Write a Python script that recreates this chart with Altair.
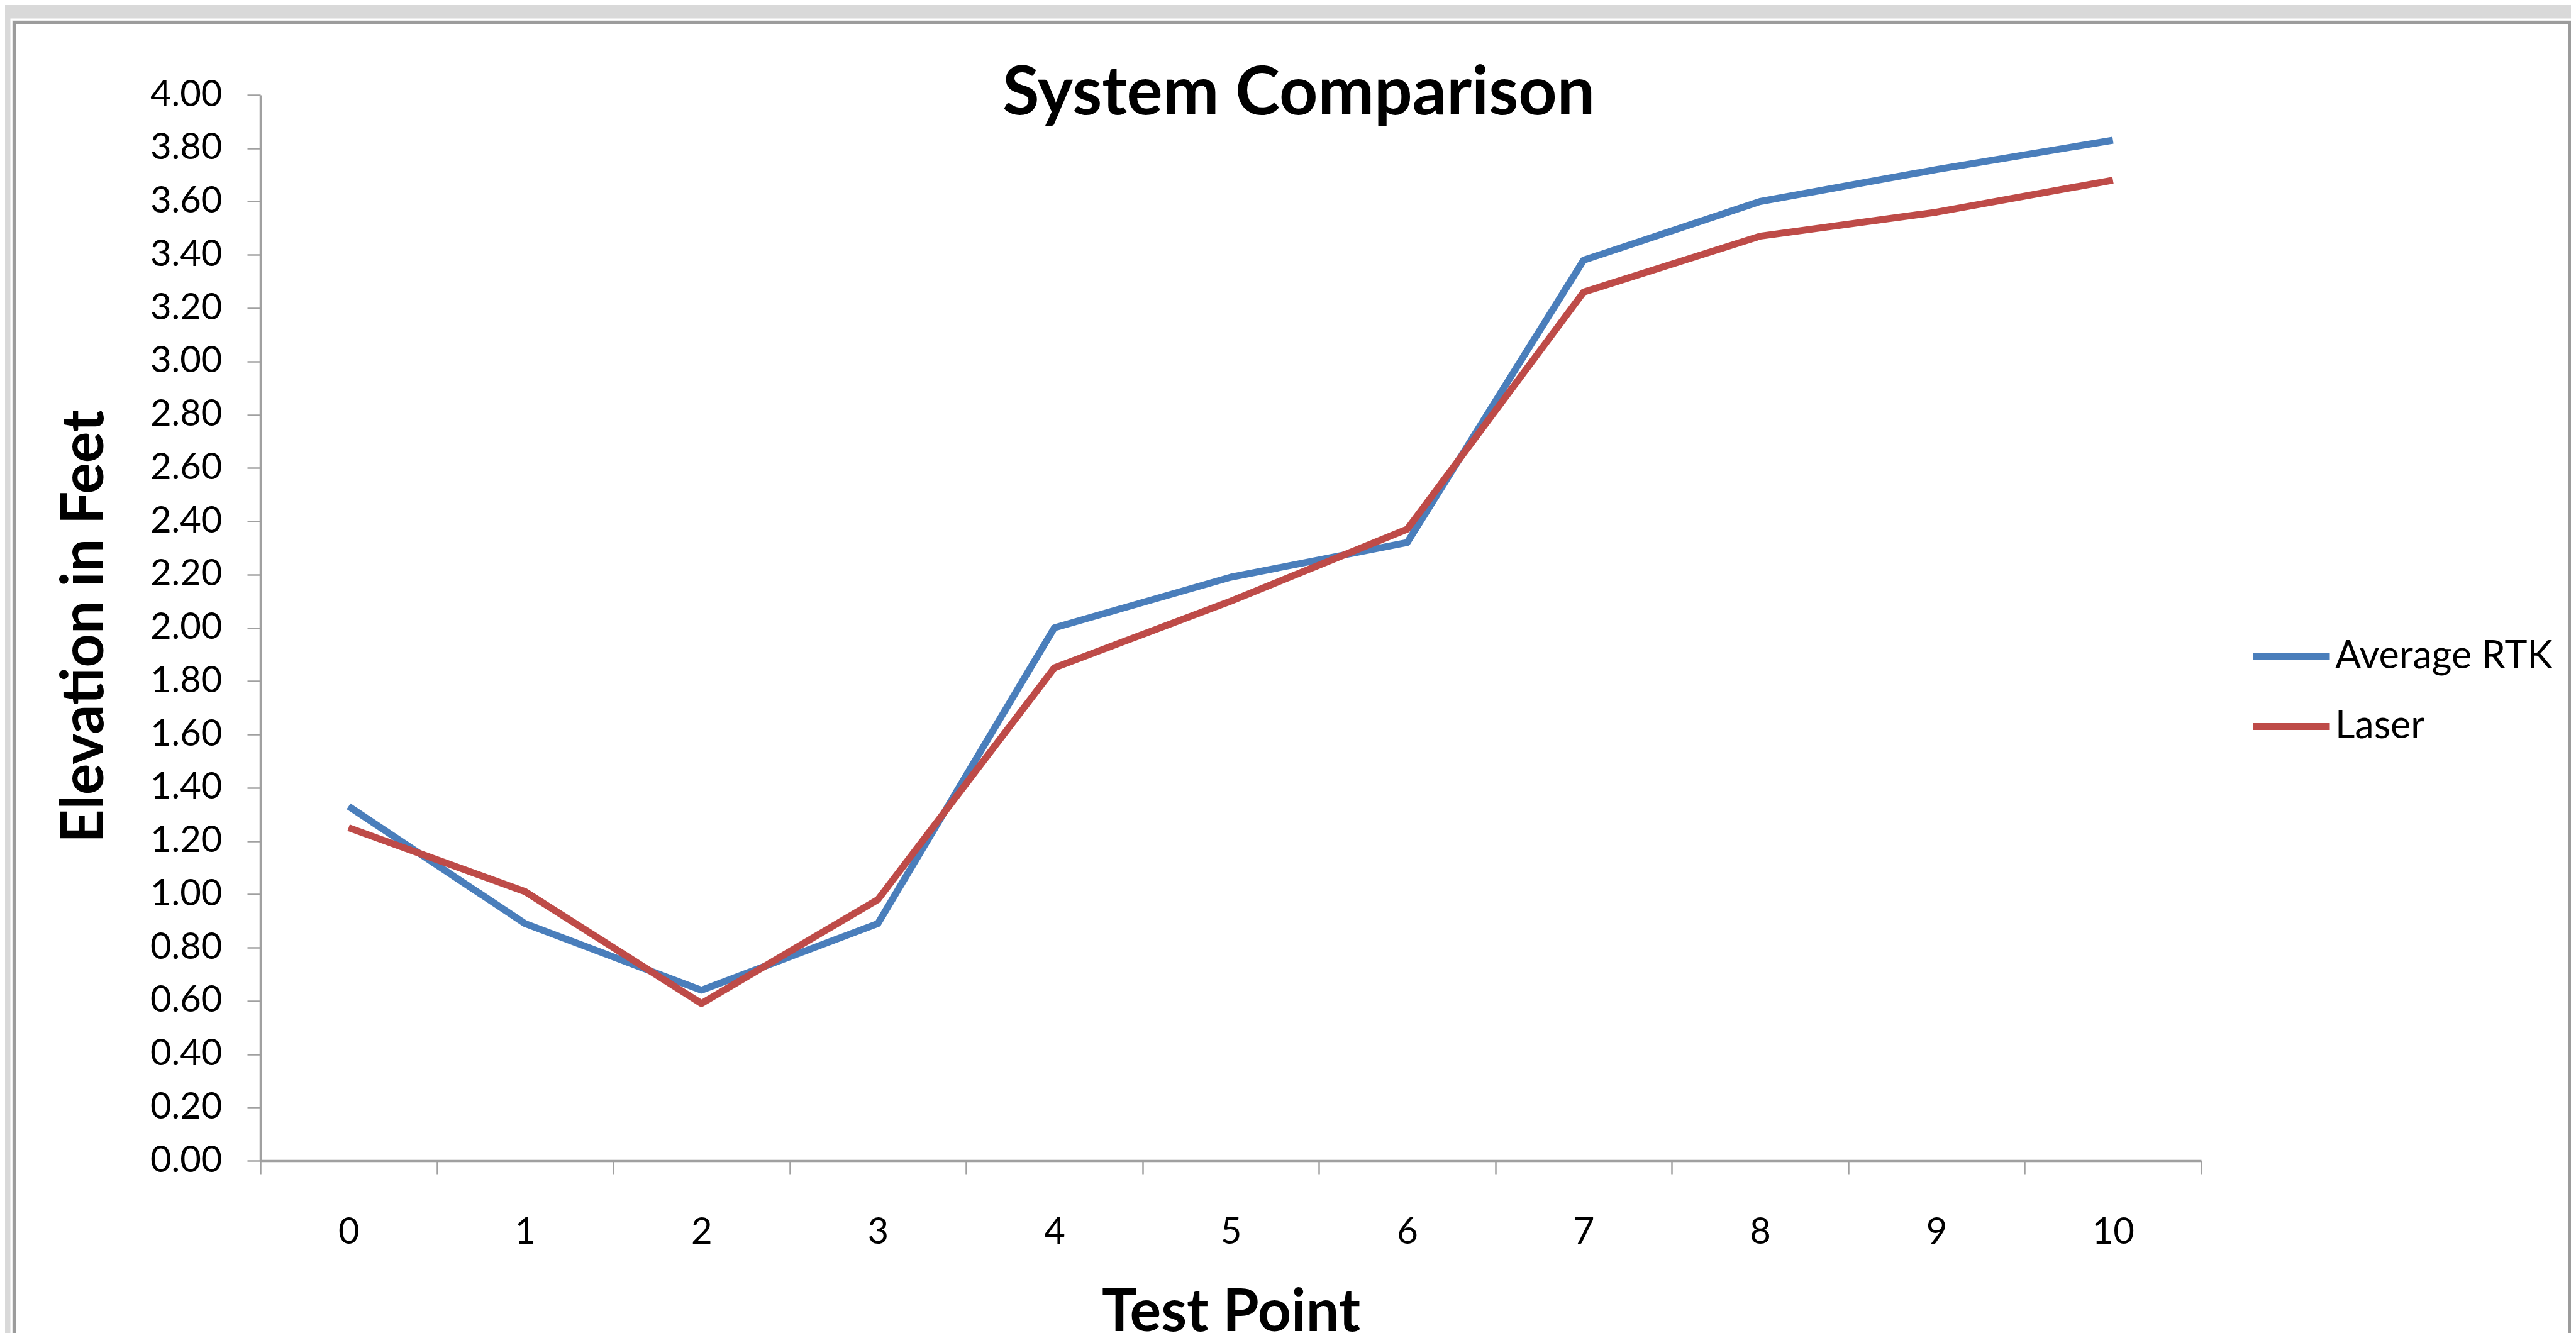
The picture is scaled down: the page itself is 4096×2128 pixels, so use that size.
import altair as alt
import pandas as pd

# ---- data ----
test_points = ["0", "1", "2", "3", "4", "5", "6", "7", "8", "9", "10"]
average_rtk = [1.33, 0.89, 0.64, 0.89, 2.00, 2.19, 2.32, 3.38, 3.60, 3.72, 3.83]
laser = [1.25, 1.01, 0.59, 0.98, 1.85, 2.10, 2.37, 3.26, 3.47, 3.56, 3.68]
series_names = ["Average RTK", "Laser"]
series_colors = ["#4A7EBB", "#BE4B48"]
y_ticks = [0.0, 0.2, 0.4, 0.6, 0.8, 1.0, 1.2, 1.4, 1.6, 1.8, 2.0,
           2.2, 2.4, 2.6, 2.8, 3.0, 3.2, 3.4, 3.6, 3.8, 4.0]
chart_title = ["System Comparison"]
x_title = "Test Point"
y_title = "Elevation in Feet"

rows = []
for name, vals in zip(series_names, [average_rtk, laser]):
    for p, v in zip(test_points, vals):
        rows.append({"point": p, "elevation": v, "series": name})
df = pd.DataFrame(rows)

FONT = "Lato"
AXIS_GRAY = "#a0a0a0"

frame_df = pd.DataFrame({"frame": [0]})
outer = alt.Chart(frame_df).mark_rect(fill="#d9d9d9", stroke="white", strokeWidth=3).encode(
    x=alt.value(-396), x2=alt.value(3677), y=alt.value(-120), y2=alt.value(2010)
)
frame = alt.Chart(frame_df).mark_rect(fill="white", stroke="#9c9c9c", strokeWidth=4).encode(
    x=alt.value(-391), x2=alt.value(3672), y=alt.value(-115), y2=alt.value(2005)
)

lines = alt.Chart(df).mark_line(strokeWidth=11, strokeJoin="round").encode(
    x=alt.X(
        "point:O",
        sort=test_points,
        scale=alt.Scale(type="band", paddingInner=0, paddingOuter=0),
        axis=alt.Axis(
            title=x_title,
            tickBand="extent",
            labelAngle=0,
            labelPadding=110,
            labelBaseline="alphabetic",
            titleFont=FONT,
            titleFontSize=93,
            titleFontWeight="bold",
            titleColor="black",
            titleBaseline="alphabetic",
            titleY=270,
            zindex=1,
        ),
    ),
    y=alt.Y(
        "elevation:Q",
        scale=alt.Scale(domain=[0, 4], nice=False, zero=True),
        axis=alt.Axis(
            title=y_title,
            values=y_ticks,
            format=".2f",
            labelPadding=40,
            titleFont=FONT,
            titleFontSize=93,
            titleFontWeight="bold",
            titleColor="black",
            titleAngle=270,
            titleAlign="center",
            titleBaseline="alphabetic",
            titleX=-251,
            titleY=845,
            zindex=1,
        ),
    ),
    color=alt.Color(
        "series:N",
        scale=alt.Scale(domain=series_names, range=series_colors),
        legend=alt.Legend(
            title=None,
            orient="none",
            legendX=3163,
            legendY=827,
            symbolType="stroke",
            symbolSize=14884,
            symbolStrokeWidth=11,
            labelFont=FONT,
            labelFontSize=61,
            labelColor="black",
            labelOffset=3,
            labelLimit=0,
            rowPadding=14,
            padding=0,
        ),
    ),
    order=alt.Order("point_idx:Q"),
).transform_calculate(
    point_idx="toNumber(datum.point)"
)

title_df = pd.DataFrame({"label": chart_title})
title = alt.Chart(title_df).mark_text(
    font=FONT, fontWeight="bold", fontSize=107, align="center",
    baseline="alphabetic", color="black"
).encode(x=alt.value(1651), y=alt.value(31), text="label:N")

chart = alt.layer(outer, frame, lines, title).properties(
    width=3086,
    height=1695,
    autosize=alt.AutoSizeParams(type="none"),
    padding={"left": 406, "top": 143, "right": 588, "bottom": 274},
    background="#d9d9d9",
).configure_view(stroke=None).configure_axis(
    grid=False,
    domainColor=AXIS_GRAY,
    domainWidth=3.5,
    tickColor=AXIS_GRAY,
    tickWidth=2.5,
    tickSize=21,
    labelFont=FONT,
    labelFontSize=58,
    labelColor="black",
)

chart.save("out.html", embed_options={"renderer": "svg", "actions": False})
